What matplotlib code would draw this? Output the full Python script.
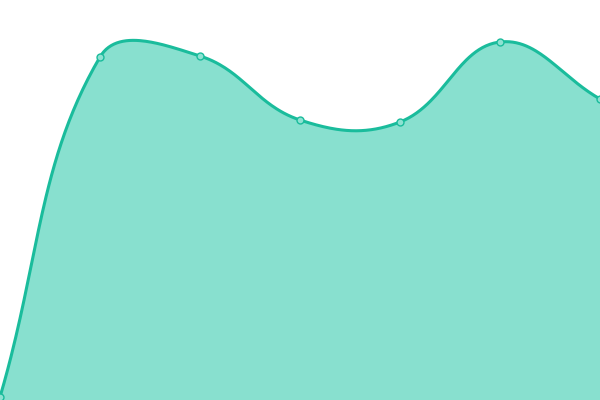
import numpy as np
import matplotlib
matplotlib.use("Agg")
import matplotlib.pyplot as plt

# ===============================================
# Smooth area chart
# ===============================================

x_vals = [0, 1, 2, 3, 4, 5, 6]
y_vals = [3, 343, 344, 280, 278, 358, 301]

line_color = "#1abc9c"
fill_color = "#88e0cf"

fig = plt.figure(figsize=(6, 4), dpi=100)
ax = fig.add_axes([0, 0, 1, 1])
ax.set_xlim(0, 6)
ax.set_ylim(0, 400)
ax.axis("off")

# control points like a tension spline, computed in display space
pts = ax.transData.transform(np.column_stack([x_vals, y_vals]))
tension = 0.4
n = len(pts)
curve = []
for i in range(n - 1):
    p0 = pts[max(i - 1, 0)]
    p1 = pts[i]
    p2 = pts[i + 1]
    p3 = pts[min(i + 2, n - 1)]

    def ctrl(prev, cur, nxt):
        d01 = np.hypot(*(cur - prev))
        d12 = np.hypot(*(nxt - cur))
        tot = d01 + d12
        s01 = d01 / tot if tot else 0
        s12 = d12 / tot if tot else 0
        c_prev = cur - tension * s01 * (nxt - prev)
        c_next = cur + tension * s12 * (nxt - prev)
        return c_prev, c_next

    _, c1 = ctrl(p0, p1, p2)
    c2, _ = ctrl(p1, p2, p3)
    t = np.linspace(0, 1, 60)[:, None]
    seg = ((1 - t) ** 3) * p1 + 3 * ((1 - t) ** 2) * t * c1 + 3 * (1 - t) * t ** 2 * c2 + t ** 3 * p2
    curve.append(seg if i == 0 else seg[1:])
curve = np.vstack(curve)
curve = ax.transData.inverted().transform(curve)

ax.fill_between(curve[:, 0], curve[:, 1], 0, color=fill_color, lw=0)
ax.plot(curve[:, 0], curve[:, 1], color=line_color, lw=2.2, solid_capstyle="round")
ax.plot(x_vals, y_vals, "o", ms=5, mfc="#8ee2d2", mec=line_color, mew=1, clip_on=False)

plt.savefig("out.png", dpi=100)
plt.close()
